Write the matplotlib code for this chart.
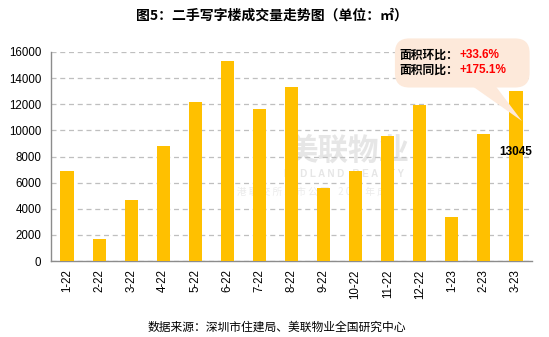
import matplotlib.pyplot as plt
from matplotlib.patches import FancyBboxPatch, Polygon

# Données
months = ["1-22", "2-22", "3-22", "4-22", "5-22", "6-22", "7-22", "8-22",
          "9-22", "10-22", "11-22", "12-22", "1-23", "2-23", "3-23"]
area = [6900, 1700, 4700, 8800, 12200, 15300, 11650, 13350,
        5600, 6900, 9600, 11950, 3400, 9750, 13045]
yticks = [0, 2000, 4000, 6000, 8000, 10000, 12000, 14000, 16000]
title = "图5：二手写字楼成交量走势图（单位：㎡）"
source = "数据来源：深圳市住建局、美联物业全国研究中心"
mom = "+33.6%"
yoy = "+175.1%"

cjk = ["Noto Sans CJK SC", "DejaVu Sans"]
num = ["Liberation Sans", "Noto Sans CJK SC"]

fig = plt.figure(figsize=(5.49, 3.37), dpi=100)
ax = fig.add_axes([51 / 549, 1 - 261 / 337, 481 / 549, 209 / 337])

x = range(len(months))
ax.bar(x, area, width=0.41, color="#FFC000", zorder=3)

ax.set_xlim(-0.5, len(months) - 0.5)
ax.set_ylim(0, 16000)
ax.set_yticks(yticks)
ax.set_yticklabels([str(v) for v in yticks], family=num, fontsize=8.3)
ax.set_xticks(list(x))
ax.set_xticklabels(months, rotation=90, family=num, fontsize=8.3)
ax.tick_params(axis="y", length=0, pad=7)
ax.tick_params(axis="x", length=0, pad=6)
ax.grid(axis="y", color="#BFBFBF", linestyle=(0, (4, 3)), linewidth=0.9, zorder=0)
for s in ["top", "right"]:
    ax.spines[s].set_visible(False)
for s in ["left", "bottom"]:
    ax.spines[s].set_color("#8C8C8C")
    ax.spines[s].set_linewidth(1)

# Filigrane
ax.text(0.617, 0.53, "美联物业", transform=ax.transAxes, fontsize=22, fontweight="bold",
        color="#E6E6E6", ha="center", va="center", family=cjk, zorder=1)
ax.text(0.61, 0.415, "M I D L A N D   R E A L T Y", transform=ax.transAxes, fontsize=7,
        fontweight="bold", color="#E6E6E6", ha="center", va="center", family=num, zorder=1)
ax.text(0.53, 0.33, "香 港 联 交 所 上 市 公 司    2 0 周 年 成", transform=ax.transAxes,
        fontsize=7, color="#EBEBEB", ha="center", va="center", family=cjk, zorder=1)

# Étiquette de la dernière valeur
ax.annotate(str(area[-1]), xy=(len(months) - 1, area[-1]), xytext=(0, -44),
            textcoords="offset points", ha="center", va="center",
            fontsize=8.5, fontweight="bold", family=num, zorder=5)

# Bulle
bub = FancyBboxPatch((0.715, 0.83), 0.28, 0.235, boxstyle="round,pad=0,rounding_size=0.03",
                     transform=ax.transAxes, facecolor="#FDE9DA", edgecolor="none",
                     clip_on=False, zorder=6, mutation_aspect=2.3)
ax.add_patch(bub)
ax.add_patch(Polygon([(0.877, 0.835), (0.925, 0.835), (0.979, 0.67)], closed=True,
                     transform=ax.transAxes, facecolor="#FDE9DA", edgecolor="none",
                     clip_on=False, zorder=6))
ax.text(0.725, 0.986, "面积环比：", transform=ax.transAxes, fontsize=8.5, fontweight="bold",
        family=cjk, va="center", zorder=7)
ax.text(0.85, 0.986, mom, transform=ax.transAxes, fontsize=8.5, fontweight="bold",
        color="#FF0000", family=num, va="center", zorder=7)
ax.text(0.725, 0.914, "面积同比：", transform=ax.transAxes, fontsize=8.5, fontweight="bold",
        family=cjk, va="center", zorder=7)
ax.text(0.85, 0.914, yoy, transform=ax.transAxes, fontsize=8.5, fontweight="bold",
        color="#FF0000", family=num, va="center", zorder=7)

fig.text(272 / 549, 1 - 16 / 337, title, ha="center", va="center", fontsize=10,
         fontweight="bold", family=cjk)
fig.text(277 / 549, 1 - 327 / 337, source, ha="center", va="center", fontsize=8.5,
         family=cjk)

fig.savefig("out.png", dpi=100)
